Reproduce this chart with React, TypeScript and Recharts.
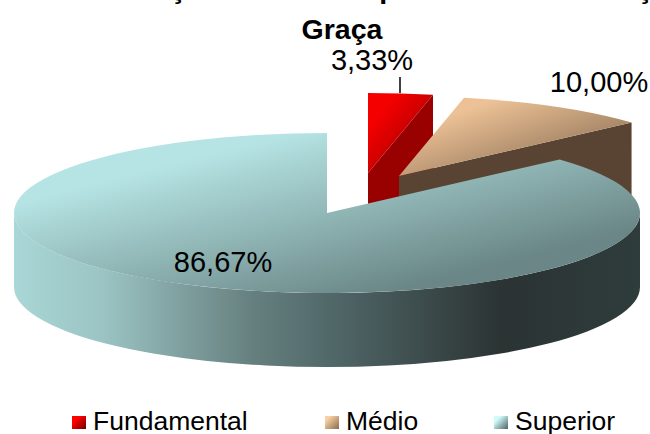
import { PieChart, Pie, Legend, Customized } from 'recharts';

const categories = ['Fundamental', 'Médio', 'Superior'];
const percents = [3.33, 10.0, 86.67];
const data = categories.map((name, i) => ({ name, value: percents[i] }));

const titleClipped = [
  { text: 'ç', x: 178 },
  { text: 'p', x: 388 },
  { text: 'ç', x: 645 },
];
const titleLine = 'Graça';

// squash of the disc and height of its wall
const SQUASH = 0.2556;
const DEPTH = 74;
const FONT = '"Liberation Sans", Arial, sans-serif';

const explode = [
  { dx: 41, dy: -40 },
  { dx: 72, dy: -37 },
  { dx: 0, dy: 0 },
];
const labelPos = [
  { x: 372, y: 70 },
  { x: 599, y: 92 },
  { x: 223, y: 272 },
];
const colors = [
  { top: ['#f40000', '#a80000'], face: '#990000' },
  { top: ['#ecc196', '#94765a'], face: '#594433' },
  { top: ['#b6e4e4', '#6a8686'], face: '#3a4a4a' },
];
const wallStops = [
  { offset: '0%', color: '#a9d6d6' },
  { offset: '14%', color: '#9cc4c4' },
  { offset: '38%', color: '#66807f' },
  { offset: '50%', color: '#52696a' },
  { offset: '78%', color: '#2b3333' },
  { offset: '100%', color: '#2f3c3c' },
];

const SliceShape = (props: any) => {
  const { cx, cy, outerRadius, startAngle, endAngle, index } = props;
  const ox = cx + explode[index].dx;
  const oy = cy + explode[index].dy;
  const rx = outerRadius;
  const ry = outerRadius * SQUASH;
  const c = colors[index];

  // angles clockwise from 12 o'clock
  const a0 = 90 - startAngle;
  const a1 = 90 - endAngle;
  const pt = (a: number, drop = 0) => {
    const r = (a * Math.PI) / 180;
    return [ox + rx * Math.sin(r), oy - ry * Math.cos(r) + drop];
  };
  const arc = (from: number, to: number, drop = 0, sweep = 1) => {
    const [x, y] = pt(to, drop);
    return `A${rx},${ry} 0 ${Math.abs(to - from) > 180 ? 1 : 0} ${sweep} ${x},${y}`;
  };

  const [sx, sy] = pt(a0);
  const topPath = `M${ox},${oy} L${sx},${sy} ${arc(a0, a1)} Z`;

  const rimFrom = Math.max(a0, 90);
  const rimTo = Math.min(a1, 270);
  let wallPath = '';
  if (rimTo > rimFrom) {
    const [wx, wy] = pt(rimFrom);
    const [ex, ey] = pt(rimTo, DEPTH);
    wallPath = `M${wx},${wy} ${arc(rimFrom, rimTo)} L${ex},${ey} ${arc(rimTo, rimFrom, DEPTH, 0)} Z`;
  }

  // the cut along the end angle shows when it faces the viewer
  let facePath = '';
  if (a1 > 0 && a1 < 180) {
    const [fx, fy] = pt(a1);
    facePath = `M${ox},${oy} L${fx},${fy} L${fx},${fy + DEPTH} L${ox},${oy + DEPTH} Z`;
  }

  return (
    <g>
      <defs>
        <linearGradient id={`top${index}`} x1="0" y1="0" x2="1" y2="1">
          <stop offset="22%" stopColor={c.top[0]} />
          <stop offset="80%" stopColor={c.top[1]} />
        </linearGradient>
        <linearGradient id={`wall${index}`} x1="0" y1="0" x2="1" y2="0">
          {wallStops.map(s => (
            <stop key={s.offset} offset={s.offset} stopColor={s.color} />
          ))}
        </linearGradient>
      </defs>
      {facePath && <path d={facePath} fill={c.face} />}
      {wallPath && <path d={wallPath} fill={`url(#wall${index})`} />}
      <path d={topPath} fill={`url(#top${index})`} />
    </g>
  );
};

const renderLabel = (props: any) => {
  const { index, value } = props;
  const p = labelPos[index];
  return (
    <g key={index}>
      {index === 0 && <line x1={400} y1={77} x2={400} y2={93} stroke="#000" strokeWidth={1.5} />}
      <text x={p.x} y={p.y} textAnchor="middle" fontFamily={FONT} fontSize={29} fill="#000">
        {value.toFixed(2).replace('.', ',')}%
      </text>
    </g>
  );
};

const swatches = [
  'linear-gradient(135deg, #ff0000 30%, #700000)',
  'linear-gradient(135deg, #f8d0a4 20%, #8a6a4c)',
  'linear-gradient(135deg, #d0fbfb 25%, #4c6262)',
];
const legendX = [72, 325, 494];

const LegendContent = () => (
  <div style={{ position: 'relative', width: 650, height: 30, fontFamily: FONT, fontSize: 26.5, color: '#000' }}>
    {categories.map((name, i) => (
      <div key={name} style={{ position: 'absolute', left: legendX[i], top: 2, display: 'flex', alignItems: 'center', lineHeight: '30px', whiteSpace: 'nowrap' }}>
        <span style={{ width: 14, height: 13, marginRight: 7, marginTop: 2, background: swatches[i], display: 'inline-block' }} />
        {name}
      </div>
    ))}
  </div>
);

const Title = () => (
  <g fontFamily={FONT} fontSize={28.5} fontWeight="bold" fill="#000" textAnchor="middle">
    {titleClipped.map((t, i) => (
      <text key={i} x={t.x} y={-2}>{t.text}</text>
    ))}
    <text x={342} y={39}>{titleLine}</text>
  </g>
);

export default function App() {
  return (
    <div style={{ position: 'absolute', left: 0, top: 0, width: 650, height: 434, overflow: 'hidden', background: '#fff' }}>
      <PieChart width={650} height={434} margin={{ top: 0, right: 0, bottom: 0, left: 0 }}>
        <Customized component={Title} />
        <Pie
          data={data}
          dataKey="value"
          nameKey="name"
          cx={327}
          cy={213}
          outerRadius={313}
          startAngle={90}
          endAngle={-270}
          stroke="none"
          shape={SliceShape}
          label={renderLabel}
          labelLine={false}
          rootTabIndex={-1}
          isAnimationActive={false}
        />
        <Legend verticalAlign="bottom" align="left" content={LegendContent} wrapperStyle={{ left: 0, bottom: 0, width: 650 }} />
      </PieChart>
    </div>
  );
}
